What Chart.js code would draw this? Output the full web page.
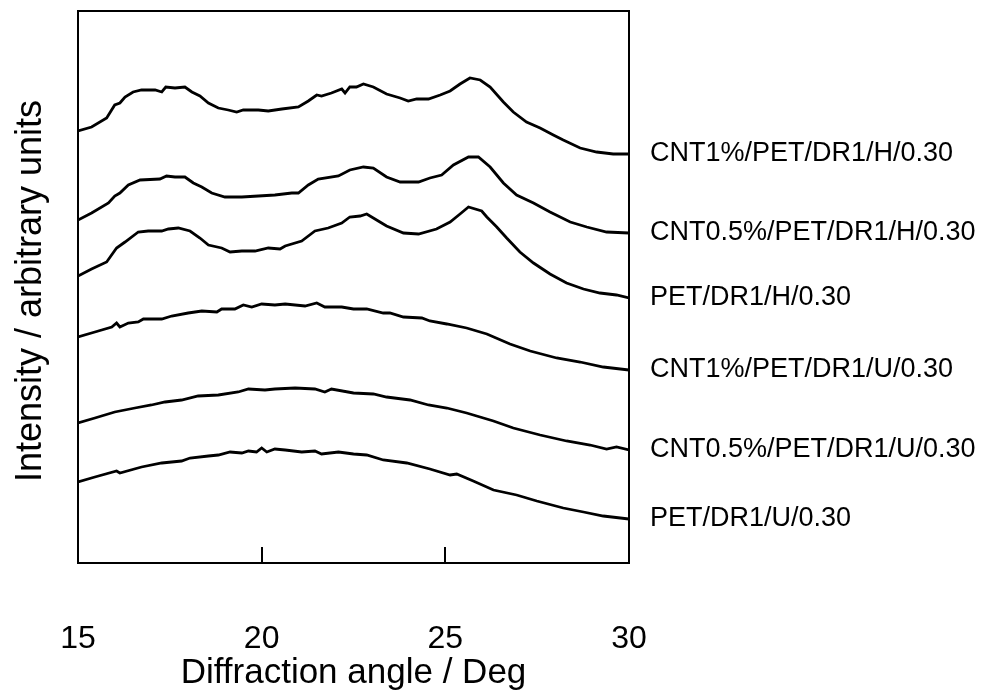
<!DOCTYPE html>
<html>
<head>
<meta charset="utf-8">
<script src="https://cdn.jsdelivr.net/npm/chart.js@4.4.1/dist/chart.umd.min.js"></script>
<style>
  html, body { margin: 0; padding: 0; background: #fff; }
  #wrap { width: 983px; height: 697px; }
</style>
</head>
<body>
<div id="wrap"><canvas id="xrd"></canvas></div>
<script>
//diffraction angle (deg) and intensity (arbitrary units), one pair of arrays per sample
const angCnt1H = [15.0, 15.37, 15.78, 16.0, 16.14, 16.28, 16.5, 16.73, 17.1, 17.28, 17.39, 17.64, 17.91, 18.1, 18.32, 18.55, 18.82, 19.09, 19.32, 19.5, 19.91, 20.18, 20.55, 21.0, 21.27, 21.5, 21.63, 21.9, 22.18, 22.27, 22.4, 22.58, 22.77, 23.04, 23.4, 23.77, 23.99, 24.22, 24.54, 24.86, 25.13, 25.4, 25.67, 25.95, 26.22, 26.58, 26.85, 27.21, 27.58, 27.94, 28.21, 28.67, 29.12, 29.57, 30.0];
const intCnt1H = [432, 436, 445, 458, 460, 466, 471, 473, 473, 471, 476, 475, 476, 471, 467, 460, 455, 453, 451, 453, 453, 452, 454, 456, 462, 468, 467, 470, 474, 470, 476, 476, 479, 476, 469, 465, 462, 464, 464, 468, 472, 479, 485, 483, 476, 461, 451, 441, 435, 428, 423, 415, 411, 409, 409];

const angCnt05H = [15.0, 15.37, 15.83, 16.0, 16.14, 16.37, 16.69, 17.23, 17.41, 17.64, 17.91, 18.14, 18.37, 18.64, 19.0, 19.46, 19.91, 20.36, 20.82, 21.0, 21.27, 21.54, 22.09, 22.4, 22.77, 23.04, 23.4, 23.77, 24.27, 24.58, 24.9, 25.22, 25.63, 25.9, 26.22, 26.58, 26.94, 27.4, 27.85, 28.4, 28.85, 29.39, 30.0];
const intCnt05H = [343, 350, 360, 367, 370, 378, 383, 384, 387, 386, 386, 380, 376, 370, 366, 366, 367, 368, 370, 370, 378, 384, 387, 393, 396, 395, 386, 381, 381, 385, 388, 398, 406, 406, 396, 380, 368, 360, 351, 341, 336, 331, 330];

const angPetH = [15.0, 15.37, 15.78, 16.05, 16.28, 16.64, 16.91, 17.28, 17.46, 17.73, 18.05, 18.32, 18.55, 18.91, 19.14, 19.46, 19.82, 20.18, 20.5, 20.64, 21.09, 21.45, 21.81, 22.18, 22.4, 22.68, 22.86, 23.22, 23.4, 23.86, 24.27, 24.76, 25.13, 25.4, 25.63, 25.99, 26.13, 26.4, 26.67, 27.03, 27.4, 27.85, 28.3, 28.76, 29.21, 29.66, 30.0];
const intPetH = [287, 294, 301, 315, 321, 331, 332, 332, 334, 335, 332, 325, 318, 315, 311, 312, 312, 315, 314, 317, 322, 332, 335, 340, 346, 347, 349, 341, 337, 330, 329, 334, 341, 349, 356, 352, 346, 336, 325, 311, 300, 289, 280, 274, 270, 268, 265];

const angCnt1U = [15.0, 15.46, 15.92, 16.05, 16.14, 16.37, 16.64, 16.78, 17.28, 17.55, 18.0, 18.37, 18.78, 18.91, 19.27, 19.5, 19.73, 20.0, 20.36, 20.64, 21.18, 21.5, 21.72, 22.18, 22.5, 22.86, 23.31, 23.49, 23.86, 24.36, 24.58, 25.04, 25.58, 26.13, 26.76, 27.31, 28.03, 28.67, 29.3, 30.0];
const intCnt1U = [226, 231, 236, 240, 236, 240, 241, 244, 244, 247, 250, 252, 251, 254, 254, 258, 256, 259, 258, 259, 257, 260, 256, 256, 254, 254, 250, 250, 246, 245, 242, 239, 235, 229, 219, 212, 205, 201, 196, 193];

const angCnt05U = [15.0, 15.46, 16.0, 16.55, 17.0, 17.37, 17.82, 18.27, 18.82, 19.36, 19.64, 20.09, 20.36, 20.91, 21.45, 21.72, 21.9, 22.5, 23.04, 23.4, 24.04, 24.54, 25.04, 25.58, 26.31, 26.85, 27.58, 28.3, 28.94, 29.39, 29.66, 30.0];
const intCnt05U = [140, 145, 151, 155, 158, 161, 163, 167, 168, 171, 174, 173, 174, 175, 174, 171, 174, 170, 169, 166, 163, 158, 155, 150, 142, 135, 128, 122, 118, 114, 116, 113];

const angPetU = [15.0, 15.46, 16.05, 16.14, 16.73, 17.28, 17.82, 18.05, 18.55, 18.82, 19.14, 19.46, 19.64, 19.86, 20.0, 20.14, 20.36, 20.64, 21.09, 21.45, 21.63, 22.09, 22.5, 22.86, 23.31, 23.95, 24.58, 25.13, 25.31, 25.76, 26.31, 26.94, 27.49, 28.21, 28.76, 29.3, 30.0];
const intPetU = [81, 86, 92, 90, 96, 100, 102, 105, 107, 108, 111, 110, 112, 111, 115, 111, 114, 113, 111, 112, 109, 111, 109, 108, 103, 100, 94, 88, 89, 82, 73, 68, 62, 55, 51, 47, 44];

const sampleNames = ['CNT1%/PET/DR1/H/0.30', 'CNT0.5%/PET/DR1/H/0.30', 'PET/DR1/H/0.30',
                     'CNT1%/PET/DR1/U/0.30', 'CNT0.5%/PET/DR1/U/0.30', 'PET/DR1/U/0.30'];
const xTicks = [15, 20, 25, 30];
const innerTicks = [20, 25];
const yTitle = 'Intensity / arbitrary units';

const font = '"Liberation Sans", Arial, sans-serif';

//pair the x and y arrays for chart.js
function toPoints(xs, ys) {
  return xs.map((a, i) => ({x: a, y: ys[i]}));
}

const series = [
  toPoints(angCnt1H, intCnt1H),
  toPoints(angCnt05H, intCnt05H),
  toPoints(angPetH, intPetH),
  toPoints(angCnt1U, intCnt1U),
  toPoints(angCnt05U, intCnt05U),
  toPoints(angPetU, intPetU)
];

//frame, inward ticks, y title and the sample names at the end of each trace
const framePlugin = {
  id: 'frame',
  afterDraw(chart) {
    const ctx = chart.ctx;
    const area = chart.chartArea;
    const xs = chart.scales.x;
    ctx.save();
    ctx.strokeStyle = '#000';
    ctx.lineWidth = 2;
    ctx.strokeRect(area.left, area.top, area.right - area.left, area.bottom - area.top);
    innerTicks.forEach((t) => {
      const px = Math.round(xs.getPixelForValue(t));
      ctx.beginPath();
      ctx.moveTo(px, area.bottom);
      ctx.lineTo(px, area.bottom - 16);
      ctx.stroke();
    });
    ctx.fillStyle = '#000';

    //sample names
    ctx.font = '27px ' + font;
    ctx.textBaseline = 'middle';
    ctx.textAlign = 'left';
    chart.data.datasets.forEach((ds, i) => {
      const pts = chart.getDatasetMeta(i).data;
      const last = pts[pts.length - 1];
      ctx.fillText(ds.label, area.right + 21, last.y);
    });

    //rotated y title
    ctx.font = '36px ' + font;
    ctx.textAlign = 'center';
    ctx.translate(31, (area.top + area.bottom) / 2 + 4);
    ctx.rotate(-Math.PI / 2);
    ctx.fillText(yTitle, 0, 0);
    ctx.restore();
  }
};

const chart = new Chart(document.getElementById('xrd'), {
  type: 'line',
  data: {
    datasets: series.map((pts, i) => ({
      label: sampleNames[i],
      data: pts,
      borderColor: '#000',
      borderWidth: 2.8,
      pointRadius: 0,
      tension: 0,
      fill: false
    }))
  },
  options: {
    responsive: true,
    maintainAspectRatio: false,
    animation: false,
    layout: { padding: { left: 0, top: 11, right: 354, bottom: 0 } },
    plugins: {
      legend: { display: false },
      tooltip: { enabled: false }
    },
    scales: {
      x: {
        type: 'linear',
        min: 15,
        max: 30,
        grid: { display: false },
        border: { display: false },
        afterBuildTicks: (scale) => { scale.ticks = xTicks.map((v) => ({value: v})); },
        afterFit: (scale) => { scale.height = 134; },
        ticks: {
          color: '#000',
          font: { family: font, size: 32 },
          padding: 49,
          maxRotation: 0
        },
        title: {
          display: true,
          text: 'Diffraction angle / Deg',
          color: '#000',
          font: { family: font, size: 35 },
          padding: { top: 0, bottom: 3 }
        }
      },
      y: {
        min: 0,
        max: 552,
        grid: { display: false },
        border: { display: false },
        ticks: { display: false },
        afterFit: (scale) => { scale.width = 78; }
      }
    }
  },
  plugins: [framePlugin]
});
</script>
</body>
</html>
